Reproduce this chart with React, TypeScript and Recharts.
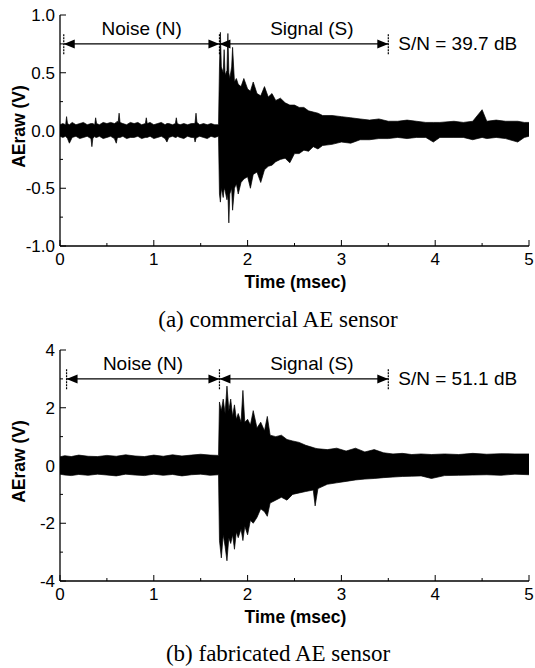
import React from 'react';
import { AreaChart, Area, XAxis, YAxis, ReferenceLine } from 'recharts';

// ---------- data (envelope of the raw AE waveform) ----------
const timeA = [0, 0.03, 0.06, 0.07, 0.08, 0.1, 0.13, 0.17, 0.21, 0.25, 0.29, 0.33, 0.34, 0.35, 0.37, 0.38, 0.39, 0.42, 0.46, 0.5, 0.54, 0.58, 0.6, 0.61, 0.62, 0.63, 0.64, 0.67, 0.71, 0.75, 0.79, 0.83, 0.87, 0.91, 0.92, 0.93, 0.96, 1.0, 1.04, 1.08, 1.12, 1.14, 1.16, 1.2, 1.23, 1.24, 1.25, 1.28, 1.32, 1.36, 1.4, 1.43, 1.44, 1.45, 1.46, 1.49, 1.53, 1.57, 1.61, 1.65, 1.69,
  1.7, 1.71, 1.72, 1.74, 1.75, 1.76, 1.78, 1.79, 1.8, 1.81, 1.83, 1.84, 1.86, 1.88, 1.9, 1.93, 1.96, 2.0, 2.03, 2.06, 2.1, 2.14, 2.18, 2.22, 2.26, 2.3, 2.35, 2.4, 2.45, 2.5, 2.55, 2.6, 2.65, 2.7, 2.75, 2.8, 2.9, 3.0, 3.1, 3.2, 3.3, 3.4, 3.5, 3.6, 3.7, 3.8, 3.9, 3.98, 4.05, 4.2, 4.3, 4.4, 4.5, 4.55, 4.65, 4.75, 4.88, 4.95, 5.0];
const upperA = [0.05, 0.06, 0.05, 0.12, 0.06, 0.05, 0.07, 0.05, 0.06, 0.07, 0.05, 0.06, 0.06, 0.06, 0.05, 0.11, 0.06, 0.05, 0.07, 0.06, 0.07, 0.06, 0.07, 0.08, 0.07, 0.15, 0.07, 0.06, 0.05, 0.07, 0.06, 0.07, 0.05, 0.06, 0.11, 0.06, 0.07, 0.05, 0.06, 0.07, 0.05, 0.06, 0.06, 0.05, 0.06, 0.11, 0.06, 0.05, 0.06, 0.05, 0.06, 0.06, 0.07, 0.15, 0.07, 0.05, 0.06, 0.05, 0.06, 0.05, 0.05,
  0.55, 0.85, 0.55, 0.5, 0.7, 0.48, 0.52, 0.84, 0.5, 0.45, 0.55, 0.72, 0.42, 0.45, 0.4, 0.38, 0.45, 0.36, 0.34, 0.42, 0.32, 0.3, 0.38, 0.29, 0.32, 0.26, 0.28, 0.24, 0.22, 0.22, 0.2, 0.2, 0.17, 0.16, 0.15, 0.13, 0.13, 0.12, 0.11, 0.1, 0.09, 0.1, 0.08, 0.08, 0.09, 0.08, 0.07, 0.07, 0.07, 0.08, 0.07, 0.08, 0.18, 0.08, 0.09, 0.08, 0.08, 0.07, 0.07];
const lowerA = [-0.05, -0.06, -0.05, -0.06, -0.07, -0.11, -0.06, -0.05, -0.07, -0.06, -0.05, -0.07, -0.14, -0.07, -0.05, -0.06, -0.06, -0.05, -0.07, -0.06, -0.05, -0.07, -0.11, -0.07, -0.06, -0.06, -0.06, -0.05, -0.07, -0.06, -0.06, -0.05, -0.07, -0.06, -0.06, -0.06, -0.05, -0.07, -0.06, -0.05, -0.07, -0.1, -0.06, -0.05, -0.06, -0.06, -0.05, -0.06, -0.07, -0.05, -0.06, -0.06, -0.1, -0.07, -0.06, -0.05, -0.06, -0.07, -0.05, -0.06, -0.05,
  -0.55, -0.62, -0.5, -0.58, -0.5, -0.52, -0.6, -0.55, -0.8, -0.55, -0.5, -0.69, -0.5, -0.46, -0.55, -0.45, -0.42, -0.4, -0.5, -0.38, -0.36, -0.45, -0.34, -0.31, -0.3, -0.27, -0.25, -0.24, -0.28, -0.2, -0.2, -0.17, -0.18, -0.14, -0.16, -0.13, -0.12, -0.1, -0.11, -0.08, -0.08, -0.07, -0.07, -0.06, -0.07, -0.06, -0.06, -0.1, -0.06, -0.06, -0.06, -0.08, -0.06, -0.07, -0.06, -0.07, -0.1, -0.06, -0.05];

const timeB = [0, 0.05, 0.12, 0.2, 0.3, 0.4, 0.5, 0.6, 0.7, 0.8, 0.9, 1.0, 1.1, 1.2, 1.3, 1.4, 1.5, 1.6, 1.69,
  1.7, 1.72, 1.74, 1.76, 1.78, 1.8, 1.82, 1.84, 1.86, 1.88, 1.9, 1.93, 1.95, 1.97, 2.0, 2.03, 2.06, 2.1, 2.14, 2.18, 2.21, 2.24, 2.3, 2.36, 2.42, 2.48, 2.55, 2.62, 2.7, 2.72, 2.75, 2.85, 2.95, 3.05, 3.15, 3.25, 3.35, 3.45, 3.55, 3.65, 3.75, 3.85, 3.96, 4.1, 4.25, 4.4, 4.55, 4.7, 4.85, 5.0];
const upperB = [0.3, 0.34, 0.31, 0.36, 0.32, 0.31, 0.35, 0.32, 0.37, 0.33, 0.31, 0.36, 0.32, 0.37, 0.33, 0.36, 0.39, 0.36, 0.35,
  2.2, 1.9, 2.3, 1.8, 2.75, 1.9, 2.3, 1.7, 2.1, 1.6, 1.8, 1.5, 2.6, 1.5, 1.6, 1.4, 1.9, 1.3, 1.5, 1.2, 1.7, 1.05, 1.0, 1.05, 0.9, 0.85, 0.8, 0.7, 0.62, 0.6, 0.58, 0.55, 0.6, 0.5, 0.6, 0.47, 0.55, 0.44, 0.4, 0.42, 0.38, 0.4, 0.38, 0.4, 0.38, 0.42, 0.39, 0.41, 0.4, 0.4];
const lowerB = [-0.3, -0.33, -0.35, -0.31, -0.34, -0.3, -0.33, -0.36, -0.3, -0.33, -0.35, -0.3, -0.34, -0.31, -0.36, -0.32, -0.3, -0.34, -0.32,
  -2.6, -3.2, -2.4, -2.8, -3.3, -2.5, -2.7, -2.4, -2.9, -2.3, -2.5, -2.2, -2.6, -2.1, -2.4, -1.9, -2.0, -1.8, -1.5, -1.6, -1.76, -1.3, -1.2, -1.1, -1.2, -1.0, -0.95, -0.9, -0.85, -1.4, -0.8, -0.65, -0.6, -0.55, -0.5, -0.47, -0.45, -0.42, -0.4, -0.38, -0.37, -0.36, -0.45, -0.35, -0.34, -0.33, -0.32, -0.34, -0.3, -0.32];

const xTicks = [0, 0.5, 1, 1.5, 2, 2.5, 3, 3.5, 4, 4.5, 5];
const yTicksA = [-1, -0.75, -0.5, -0.25, 0, 0.25, 0.5, 0.75, 1];
const yTicksB = [-4, -3, -2, -1, 0, 1, 2, 3, 4];

const dataA = timeA.map((t, i) => ({ t, r: [lowerA[i], upperA[i]] }));
const dataB = timeB.map((t, i) => ({ t, r: [lowerB[i], upperB[i]] }));

const SANS = '"Liberation Sans", Arial, Helvetica, sans-serif';
const SERIF = '"Liberation Serif", "Times New Roman", serif';

const isMultiple = (v: number, step: number) => Math.abs(v / step - Math.round(v / step)) < 1e-9;

const XTick = (props: any) => {
  const { x, y, payload } = props;
  const major = isMultiple(payload.value, 1);
  return (
    <g>
      <line x1={x} x2={x} y1={y} y2={y - (major ? 6 : 3)} stroke="#000" strokeWidth={1} />
      {major && (
        <text x={x} y={y + 19} textAnchor="middle" fontSize={17} fontFamily={SANS} fill="#000">
          {payload.value}
        </text>
      )}
    </g>
  );
};

const TopTick = (props: any) => {
  const { x, y, payload } = props;
  const major = isMultiple(payload.value, 1);
  return <line x1={x} x2={x} y1={y} y2={y + (major ? 5 : 3)} stroke="#000" strokeWidth={1} />;
};

const makeYTick = (step: number, fmt: (v: number) => string) => (props: any) => {
  const { x, y, payload } = props;
  const major = isMultiple(payload.value, step);
  return (
    <g>
      <line x1={x} x2={x + (major ? 6 : 3)} y1={y} y2={y} stroke="#000" strokeWidth={1} />
      {major && (
        <text x={x - 5} y={y + 6} textAnchor="end" fontSize={17} fontFamily={SANS} fill="#000">
          {fmt(payload.value)}
        </text>
      )}
    </g>
  );
};

const arrowShape = (label: string, dx: number, extra?: string) => (p: any) => {
  const { x1, y1, x2, y2 } = p;
  const L = 11;
  const H = 4.5;
  return (
    <g>
      <line x1={x1} y1={y1} x2={x2} y2={y2} stroke="#000" strokeWidth={1.3} />
      <polygon points={`${x1},${y1} ${x1 + L},${y1 - H} ${x1 + L},${y1 + H}`} fill="#000" />
      <polygon points={`${x2},${y2} ${x2 - L},${y2 - H} ${x2 - L},${y2 + H}`} fill="#000" />
      <text x={(x1 + x2) / 2 + dx} y={y1 - 9} textAnchor="middle" fontSize={19} fontFamily={SANS} fill="#000">
        {label}
      </text>
      {extra && (
        <text x={x2 + 10} y={y2 + 6} textAnchor="start" fontSize={19} fontFamily={SANS} fill="#000">
          {extra}
        </text>
      )}
    </g>
  );
};

const barShape = (p: any) => {
  const { x1, y1, x2, y2 } = p;
  return <line x1={x1} y1={y1} x2={x2} y2={y2} stroke="#000" strokeWidth={1.2} strokeDasharray="2 1" />;
};

const YTitle = (props: any) => {
  const { viewBox } = props;
  const cx = viewBox.x + 19;
  const cy = viewBox.y + viewBox.height / 2 - 4;
  return (
    <text x={cx} y={cy} transform={`rotate(-90 ${cx} ${cy})`} textAnchor="middle" dominantBaseline="central"
      fontSize={17.5} fontWeight="bold" fontFamily={SANS} fill="#000">
      AEraw (V)
    </text>
  );
};

const XTitle = (props: any) => {
  const { viewBox } = props;
  return (
    <text x={viewBox.x + viewBox.width / 2 + 1} y={viewBox.y + 42} textAnchor="middle"
      fontSize={17.5} fontWeight="bold" fontFamily={SANS} fill="#000">
      Time (msec)
    </text>
  );
};

type PanelProps = {
  data: any[];
  yDomain: [number, number];
  yTicks: number[];
  yStep: number;
  fmt: (v: number) => string;
  arrowY: number;
  barH: number;
  noiseStart: number;
  snText: string;
  height: number;
  xAxisHeight: number;
};

const Panel = ({ data, yDomain, yTicks, yStep, fmt, arrowY, barH, noiseStart, snText, height, xAxisHeight }: PanelProps) => (
  <AreaChart width={535} height={height} data={data} margin={{ top: 15, right: 6, bottom: 0, left: 0 }}>
    <XAxis dataKey="t" type="number" domain={[0, 5]} ticks={xTicks} interval={0} allowDataOverflow
      height={xAxisHeight} tickSize={0} tickMargin={0} tickLine={false} tick={<XTick />}
      axisLine={{ stroke: '#000', strokeWidth: 1.3 }} label={<XTitle />} />
    <XAxis xAxisId="top" orientation="top" type="number" domain={[0, 5]} ticks={xTicks} interval={0}
      height={0} tickSize={0} tickMargin={0} tickLine={false} tick={<TopTick />}
      axisLine={{ stroke: '#000', strokeWidth: 1.3 }} />
    <YAxis type="number" domain={yDomain} ticks={yTicks} interval={0} allowDataOverflow width={60}
      tickSize={0} tickMargin={0} tickLine={false} tick={makeYTick(yStep, fmt)}
      axisLine={{ stroke: '#000', strokeWidth: 1.3 }} label={<YTitle />} />
    <YAxis yAxisId="right" orientation="right" type="number" domain={yDomain} width={0} tick={false}
      tickLine={false} axisLine={{ stroke: '#000', strokeWidth: 1.3 }} />
    <Area dataKey="r" type="linear" stroke="#000" strokeWidth={0.7} fill="#000" fillOpacity={1}
      isAnimationActive={false} dot={false} activeDot={false} />
    <ReferenceLine segment={[{ x: noiseStart, y: arrowY - barH }, { x: noiseStart, y: arrowY + barH }]} shape={barShape} />
    <ReferenceLine segment={[{ x: 1.7, y: arrowY - barH }, { x: 1.7, y: arrowY + barH }]} shape={barShape} />
    <ReferenceLine segment={[{ x: 3.5, y: arrowY - barH }, { x: 3.5, y: arrowY + barH }]} shape={barShape} />
    <ReferenceLine segment={[{ x: noiseStart, y: arrowY }, { x: 1.7, y: arrowY }]} shape={arrowShape('Noise (N)', 0)} />
    <ReferenceLine segment={[{ x: 1.7, y: arrowY }, { x: 3.5, y: arrowY }]} shape={arrowShape('Signal (S)', 8, snText)} />
  </AreaChart>
);

export default function App() {
  return (
    <div style={{ position: 'absolute', left: 0, top: 0, width: 535, height: 668, background: '#fff' }}>
      <svg width={535} height={668} style={{ position: 'absolute', left: 0, top: 0 }}>
        <text x={278} y={327} textAnchor="middle" fontSize={23} fontFamily={SERIF} fill="#000">
          (a) commercial AE sensor
        </text>
        <text x={278} y={661} textAnchor="middle" fontSize={23} fontFamily={SERIF} fill="#000">
          (b) fabricated AE sensor
        </text>
      </svg>
      <div style={{ position: 'absolute', left: 0, top: 0 }}>
        <Panel data={dataA} yDomain={[-1, 1]} yTicks={yTicksA} yStep={0.5} fmt={(v) => v.toFixed(1)}
          arrowY={0.75} barH={0.09} noiseStart={0.04} snText="S/N = 39.7 dB" height={300} xAxisHeight={54} />
      </div>
      <div style={{ position: 'absolute', left: 0, top: 335 }}>
        <Panel data={dataB} yDomain={[-4, 4]} yTicks={yTicksB} yStep={2} fmt={(v) => String(v)}
          arrowY={3} barH={0.36} noiseStart={0.07} snText="S/N = 51.1 dB" height={300} xAxisHeight={54} />
      </div>
    </div>
  );
}
